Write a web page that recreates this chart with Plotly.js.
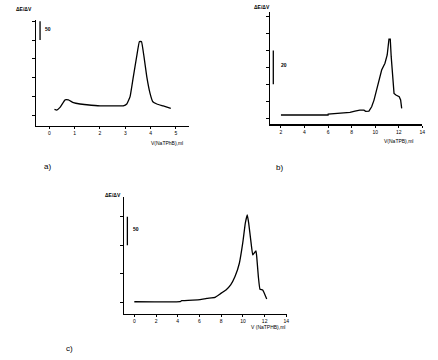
<!DOCTYPE html>
<html><head><meta charset="utf-8">
<script src="https://cdn.plot.ly/plotly-3.0.1.min.js"></script>
<style>html,body{margin:0;padding:0;background:#fff}#c{width:438px;height:360px}</style>
</head><body><div id="c"></div>
<script>
// Panel a
var xA = [0.2,0.29,0.42,0.62,0.75,0.95,1.21,1.48,2.0,2.53,2.92,3.06,3.19,3.32,3.45,3.56,3.64,3.74,3.85,3.98,4.09,4.25,4.5,4.8];
var yA = [16,14,21,41,41,33.5,30,28,25,25,25,30,49.5,103,156,196,196,156,103,58.5,36,30,25,18.6];
// Panel b
var xB = [2.0,6.0,6.01,7.15,7.86,8.28,8.7,9.05,9.19,9.47,9.7,9.9,10.12,10.35,10.55,10.83,11.02,11.17,11.28,11.36,11.48,11.6,11.76,12.04,12.16,12.25];
var yB = [1.8,1.8,2.4,2.8,3.4,4.1,4.7,4.7,4.0,4.1,6.7,10.6,16.6,24.4,28.4,32.4,37.3,46.6,46.6,36.3,22.5,14.6,13.6,12.6,10.7,5.7];
// Panel c
var xC = [0,4.2,4.36,6.05,6.67,7.43,7.89,8.44,8.87,9.27,9.67,9.98,10.22,10.4,10.53,10.72,10.9,11.02,11.2,11.27,11.42,11.57,11.82,12.19];
var yC = [1,1,2.8,4.6,7,8.8,14.6,21.6,30.4,45,68.4,103.5,138.6,153,138.6,109,83,86,90,80,45,22.8,21.6,5.8];

var ticksA = [0,1,2,3,4,5];
var ticksB = [2,4,6,8,10,12,14];
var ticksC = [0,2,4,6,8,10,12,14];
var yTicksA = [0,50,100,150,200,250];
var yTicksB = [0,10,20,30,40,50,60];
var yTicksC = [0,50,100,150];

var line = {color:'#000', width:1.3, shape:'spline', smoothing:0.3};
var traces = [
  {x:xA, y:yA, xaxis:'x', yaxis:'y', mode:'lines', line:line, hoverinfo:'skip'},
  {x:xB, y:yB, xaxis:'x2', yaxis:'y2', mode:'lines', line:{color:'#000', width:1.3}, hoverinfo:'skip'},
  {x:xC, y:yC, xaxis:'x3', yaxis:'y3', mode:'lines', line:line, hoverinfo:'skip'}
];

var FAM = 'Arial, Liberation Sans';
function xax(dom, range, tv, anchor){
  return {domain:dom, range:range, anchor:anchor, tickvals:tv, ticktext:tv.map(String),
    showline:true, linecolor:'#000', linewidth:1.3, ticks:'outside', ticklen:2, tickcolor:'#000', tickwidth:1,
    showgrid:false, zeroline:false, tickfont:{size:5, family:FAM, color:'#000'}, fixedrange:true};
}
function yax(dom, range, tv, anchor){
  return {domain:dom, range:range, anchor:anchor, tickvals:tv, showticklabels:false,
    showline:true, linecolor:'#000', linewidth:1.3, ticks:'outside', ticklen:3, tickcolor:'#000', tickwidth:1,
    showgrid:false, zeroline:false, fixedrange:true};
}

function ann(x,y,t,sz,xanchor){return {xref:'paper',yref:'paper',x:x/438,y:1-y/360,text:t,showarrow:false,font:{size:sz||5,family:FAM,color:'#000'},xanchor:xanchor||'center',yanchor:'middle'};}

function bar(xr, yr, x, y0, y1){
  return [
    {type:'line', xref:xr, yref:yr, x0:x, x1:x, y0:y0, y1:y1, line:{color:'#000', width:1.3}}
  ];
}

var layout = {
  width:438, height:360, margin:{l:0,r:0,t:0,b:0}, showlegend:false,
  paper_bgcolor:'#fff', plot_bgcolor:'rgba(0,0,0,0)',
  xaxis: xax([36/438,189/438], [-0.53,5.52], ticksA, 'y'),
  yaxis: yax([1-125.7/360, 1-20/360], [-27.7,253.5], yTicksA, 'x'),
  xaxis2: xax([270/438,422.3/438], [1.07,14.0], ticksB, 'y2'),
  yaxis2: yax([1-124.3/360, 1-11.7/360], [-3.7,62.9], yTicksB, 'x2'),
  xaxis3: xax([124/438,286.7/438], [-0.95,14.03], ticksC, 'y3'),
  yaxis3: yax([1-314/360, 1-196.7/360], [-20.5,185], yTicksC, 'x3'),
  shapes: [].concat(
    bar('x','y',-0.37,200,250),
    bar('x2','y2',1.35,20,40),
    bar('x3','y3',-0.64,100,150)
  ),
  annotations: [
    ann(24,9,'<b>ΔE/ΔV</b>'),
    ann(262,7,'<b>ΔE/ΔV</b>'),
    ann(113,195,'<b>ΔE/ΔV</b>'),
    ann(42.5,29,'<b>50</b>',5,'left'),
    ann(279,65,'<b>20</b>',5,'left'),
    ann(131,229,'<b>50</b>',5,'left'),
    ann(166.7,142.7,'V(NaTPhB),ml'),
    ann(398,140.7,'V(NaTPB),ml'),
    ann(268,327.3,'V (NaTPHB),ml'),
    ann(47,166,'a)',8),
    ann(279,167,'b)',8),
    ann(69,348,'c)',8)
  ]
};
Plotly.newPlot('c', traces, layout, {staticPlot:true, displayModeBar:false});
</script></body></html>
